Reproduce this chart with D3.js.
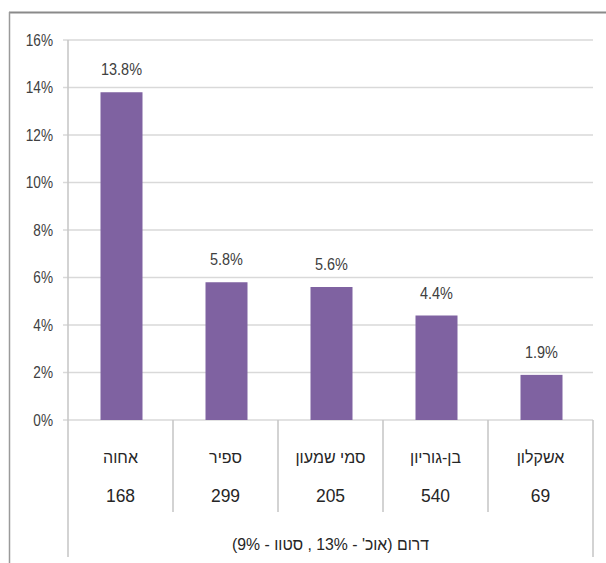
<!DOCTYPE html>
<html><head><meta charset="utf-8">
<script src="https://cdn.jsdelivr.net/npm/d3@7"></script>
<style>
html,body{margin:0;padding:0;background:#fff;}
svg{display:block;}
text{font-family:"Liberation Sans",Arial,"DejaVu Sans",sans-serif;}
</style></head>
<body>
<svg id="chart" width="606" height="563"></svg>
<script>
const categories = ["אחוה", "ספיר", "סמי שמעון", "בן-גוריון", "אשקלון"];
const counts = ["168", "299", "205", "540", "69"];
const values = [13.8, 5.8, 5.6, 4.4, 1.9];
const yTicks = [0, 2, 4, 6, 8, 10, 12, 14, 16];
const groupLabel = "דרום (אוכ' - 13% , סטוו - 9%)";

const svg = d3.select("#chart");
const mLeft = 68, mRight = 593, mTop = 40, mBottom = 420;

const x = d3.scaleBand().domain(categories).range([mLeft, mRight]).paddingInner(0).paddingOuter(0);
const y = d3.scaleLinear().domain([0, 16]).range([mBottom, mTop]);

// outer border (partially visible)
svg.append("line").attr("x1", 9).attr("x2", 606).attr("y1", 12.5).attr("y2", 12.5)
  .attr("stroke", "#8a8a8a").attr("stroke-width", 2);
svg.append("line").attr("x1", 9.5).attr("x2", 9.5).attr("y1", 12).attr("y2", 563)
  .attr("stroke", "#9a9a9a").attr("stroke-width", 1.5);

// gridlines
svg.append("g").selectAll("line").data(yTicks).join("line")
  .attr("x1", mLeft - 5).attr("x2", mRight)
  .attr("y1", d => y(d)).attr("y2", d => y(d))
  .attr("stroke", "#d9d9d9").attr("stroke-width", 1.6);

// y tick labels (condensed)
svg.append("g").selectAll("text").data(yTicks).join("text")
  .attr("transform", d => `translate(53,${y(d)}) scale(0.85,1)`)
  .attr("dy", "0.36em")
  .attr("text-anchor", "end")
  .attr("font-size", 16).attr("fill", "#404040")
  .text(d => d + "%");

// y axis line
svg.append("line").attr("x1", mLeft).attr("x2", mLeft).attr("y1", mTop).attr("y2", 557)
  .attr("stroke", "#c8c8c8").attr("stroke-width", 1.6);
// right table line
svg.append("line").attr("x1", mRight).attr("x2", mRight).attr("y1", mBottom).attr("y2", 557)
  .attr("stroke", "#c8c8c8").attr("stroke-width", 1.6);
// category dividers
svg.append("g").selectAll("line").data(categories.slice(1)).join("line")
  .attr("x1", d => x(d)).attr("x2", d => x(d))
  .attr("y1", mBottom).attr("y2", 512)
  .attr("stroke", "#c8c8c8").attr("stroke-width", 1.6);

// bars
const bw = x.bandwidth() * 0.4;
svg.append("g").selectAll("rect").data(values).join("rect")
  .attr("x", (d, i) => x(categories[i]) + x.bandwidth() / 2 - bw / 2 + 1)
  .attr("width", bw)
  .attr("y", d => y(d))
  .attr("height", d => y(0) - y(d))
  .attr("fill", "#7f62a1");

// value labels (condensed)
svg.append("g").selectAll("text").data(values).join("text")
  .attr("transform", (d, i) => `translate(${x(categories[i]) + x.bandwidth() / 2 + 1},${y(d) - 17}) scale(0.85,1)`)
  .attr("text-anchor", "middle")
  .attr("font-size", 17).attr("fill", "#404040")
  .text(d => d.toFixed(1) + "%");

// category names
svg.append("g").selectAll("text").data(categories).join("text")
  .attr("x", d => x(d) + x.bandwidth() / 2)
  .attr("y", 457).attr("dy", "0.36em")
  .attr("text-anchor", "middle")
  .attr("direction", "rtl")
  .attr("font-size", 16).attr("fill", "#262626")
  .text(d => d);

// counts
svg.append("g").selectAll("text").data(counts).join("text")
  .attr("transform", (d, i) => `translate(${x(categories[i]) + x.bandwidth() / 2},495) scale(0.92,1)`)
  .attr("dy", "0.36em")
  .attr("text-anchor", "middle")
  .attr("font-size", 19).attr("fill", "#262626")
  .text(d => d);

// group label
svg.append("text")
  .attr("transform", `translate(${(mLeft + mRight) / 2},544) scale(0.93,1)`)
  .attr("dy", "0.36em")
  .attr("text-anchor", "middle")
  .attr("direction", "rtl")
  .attr("font-size", 17).attr("fill", "#262626")
  .text(groupLabel);
</script>
</body></html>
